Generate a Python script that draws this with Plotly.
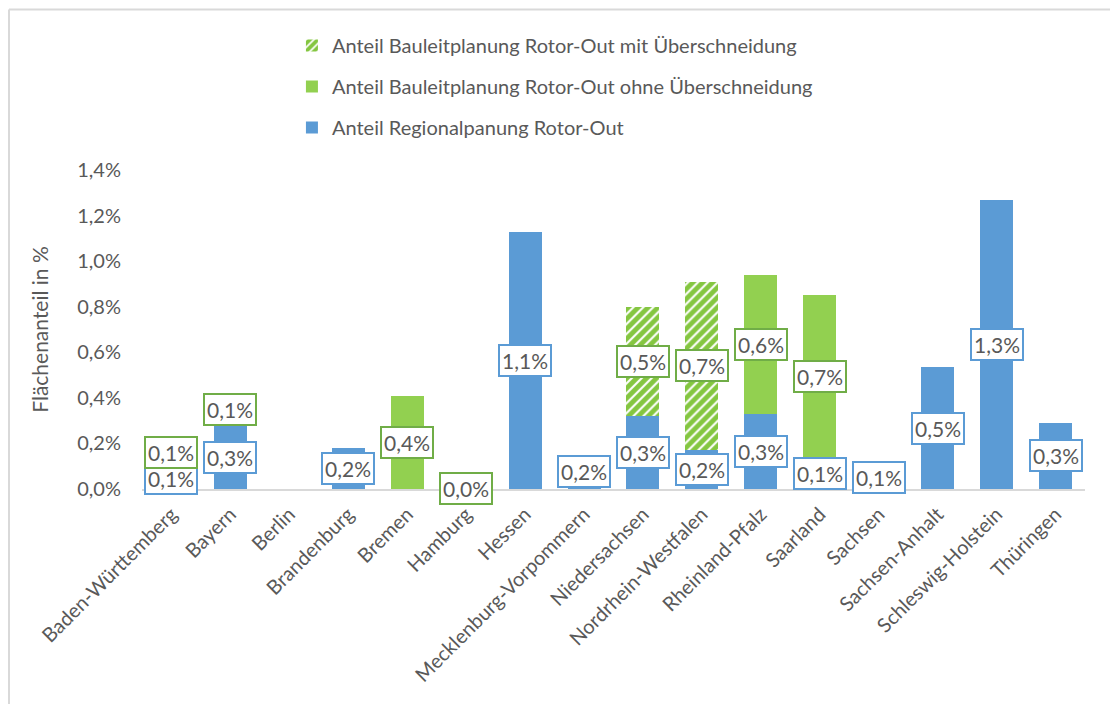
import plotly.graph_objects as go

regions = ["Baden-Württemberg", "Bayern", "Berlin", "Brandenburg", "Bremen", "Hamburg",
           "Hessen", "Mecklenburg-Vorpommern", "Niedersachsen", "Nordrhein-Westfalen",
           "Rheinland-Pfalz", "Saarland", "Sachsen", "Sachsen-Anhalt",
           "Schleswig-Holstein", "Thüringen"]
regional = [0.09, 0.28, 0.0, 0.18, 0.0, 0.0, 1.13, 0.151, 0.32, 0.17, 0.33, 0.14, 0.10, 0.535, 1.27, 0.29]
bauleit_ohne = [0.14, 0.14, 0.0, 0.0, 0.41, 0.004, 0.0, 0.0, 0.0, 0.0, 0.61, 0.71, 0.0, 0.0, 0.0, 0.0]
bauleit_mit = [0.0, 0.0, 0.0, 0.0, 0.0, 0.0, 0.0, 0.0, 0.48, 0.74, 0.0, 0.0, 0.0, 0.0, 0.0, 0.0]

name_mit = "Anteil Bauleitplanung Rotor-Out mit Überschneidung"
name_ohne = "Anteil Bauleitplanung Rotor-Out ohne Überschneidung"
name_reg = "Anteil Regionalpanung Rotor-Out"

BLUE = "#5B9BD5"
GREEN = "#92D050"
HATCH = "#84C640"
GREEN_BORDER = "#70AD47"
TEXT = "#595959"
FONT = "Lato"

fig = go.Figure()
fig.add_trace(go.Bar(x=regions, y=regional, name=name_reg, legendgroup="c", legendrank=3,
                     marker=dict(color=BLUE, line=dict(width=0)), width=0.56))
fig.add_trace(go.Bar(x=regions, y=bauleit_ohne, name=name_ohne, legendgroup="b", legendrank=2,
                     marker=dict(color=GREEN, line=dict(width=0)), width=0.56))
fig.add_trace(go.Bar(x=regions, y=bauleit_mit, name=name_mit, legendgroup="a", legendrank=1,
                     marker=dict(color="white", line=dict(width=0),
                                 pattern=dict(shape="/", fgcolor=HATCH, bgcolor="white",
                                              fgopacity=1, size=7, solidity=0.7)),
                     width=0.56))

def fmt(v):
    return ("%.1f%%" % v).replace(".", ",")

annotations = []
for key, series, border in [("reg", regional, BLUE), ("ohne", bauleit_ohne, GREEN_BORDER),
                            ("mit", bauleit_mit, GREEN_BORDER)]:
    for i, v in enumerate(series):
        if v <= 0:
            continue
        if key == "mit":
            base = regional[i] + bauleit_ohne[i]
        elif key == "ohne":
            base = regional[i]
        else:
            base = 0
        annotations.append(dict(x=regions[i], y=base + v / 2, xref="x", yref="y",
                                text=fmt(v), showarrow=False,
                                font=dict(family=FONT, size=21, color=TEXT),
                                bgcolor="white", bordercolor=border, borderwidth=2,
                                borderpad=2))

W, H = 1110, 696
L, R, T, B = 134, 33, 162, 215
pw = W - L - R
ph = H - T - B
xl = -(L - 1) / pw
xr = (W - L) / pw
yt = (ph + T - 1.5) / ph
yb = -B / ph

fig.update_layout(
    barmode="stack",
    width=W, height=H,
    margin=dict(l=L, r=R, t=T, b=B, autoexpand=False),
    paper_bgcolor="white", plot_bgcolor="white",
    font=dict(family=FONT, color=TEXT, size=20),
    separators=",.",
    bargap=0.44,
    showlegend=True,
    legend=dict(x=0.159, y=1 - 18 / H, xanchor="left", yanchor="top", yref="container",
                traceorder="grouped", tracegroupgap=12,
                font=dict(family=FONT, size=20, color=TEXT),
                bgcolor="rgba(0,0,0,0)"),
    annotations=annotations,
    xaxis=dict(tickangle=-45, showline=True, linecolor="#D9D9D9", linewidth=1.5,
               ticks="", showgrid=False, tickfont=dict(size=20, color=TEXT),
               ticklabelstandoff=4, range=[-0.5, 15.5], automargin=False),
    yaxis=dict(range=[0, 1.4], dtick=0.2, tickformat=".1f", ticksuffix="%",
               showgrid=False, zeroline=False, showline=False, ticks="",
               ticklabelstandoff=20, tickfont=dict(size=20, color=TEXT), automargin=False,
               title=dict(text="Flächenanteil in %", font=dict(size=21, color=TEXT),
                          standoff=22)),
    shapes=[
        dict(type="line", xref="paper", yref="paper", x0=xl, x1=xl, y0=yt, y1=yb,
             line=dict(color="#D9D9D9", width=2)),
        dict(type="line", xref="paper", yref="paper", x0=xl, x1=xr, y0=yt, y1=yt,
             line=dict(color="#D9D9D9", width=2)),
    ],
)

fig.write_html("out.html")
